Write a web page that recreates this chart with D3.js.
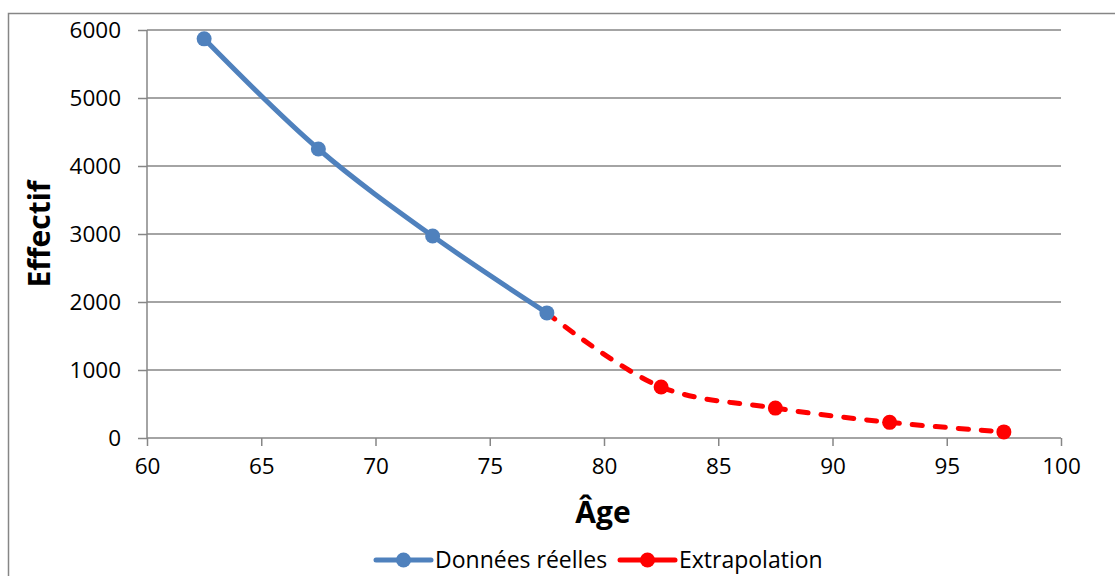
<!DOCTYPE html>
<html>
<head>
<meta charset="utf-8">
<script src="https://cdn.jsdelivr.net/npm/d3@7"></script>
<style>
  body { margin: 0; background: #fff; }
  text { font-family: "Open Sans", "Noto Sans", sans-serif; fill: #000; }
</style>
</head>
<body>
<svg id="chart" width="1115" height="576"></svg>
<script>
// data
const reelAges = [62.5, 67.5, 72.5, 77.5];
const reelValues = [5870, 4250, 2970, 1840];
const extraAges = [77.5, 82.5, 87.5, 92.5, 97.5];
const extraValues = [1840, 750, 440, 230, 90];
const xTicks = [60, 65, 70, 75, 80, 85, 90, 95, 100];
const yTicks = [0, 1000, 2000, 3000, 4000, 5000, 6000];
const seriesNames = ["Données réelles", "Extrapolation"];

const margin = { top: 30, right: 54, bottom: 138, left: 147 };
const width = 1115 - margin.left - margin.right;
const height = 576 - margin.top - margin.bottom;
const grid = "#868686";
const blue = "#4F81BD";
const red = "#FF0000";

const svg = d3.select("#chart");

// outer frame
svg.append("rect")
  .attr("x", 8.5).attr("y", 13.5)
  .attr("width", 1115).attr("height", 580)
  .attr("fill", "none").attr("stroke", grid).attr("stroke-width", 1.5);

const g = svg.append("g").attr("transform", `translate(${margin.left},${margin.top})`);

const x = d3.scaleLinear().domain([60, 100]).range([0, width]);
const y = d3.scaleLinear().domain([0, 6000]).range([height, 0]);

// gridlines
g.append("g")
  .selectAll("line")
  .data(yTicks.filter(d => d > 0))
  .join("line")
  .attr("x1", 0).attr("x2", width)
  .attr("y1", d => y(d)).attr("y2", d => y(d))
  .attr("stroke", grid).attr("stroke-width", 1.5);

// y axis
const yAxis = g.append("g")
  .call(d3.axisLeft(y).tickValues(yTicks).tickFormat(d3.format("d")).tickSize(9).tickPadding(17));
yAxis.select(".domain").attr("stroke", grid).attr("stroke-width", 1.5).attr("d", `M0,${height}V0`);
yAxis.selectAll(".tick line").attr("stroke", grid).attr("stroke-width", 1.5);
yAxis.selectAll(".tick text").style("font-size", "22.5px").attr("fill", "#000");

// x axis
const xAxis = g.append("g")
  .attr("transform", `translate(0,${height})`)
  .call(d3.axisBottom(x).tickValues(xTicks).tickSize(8).tickPadding(12));
xAxis.select(".domain").attr("stroke", grid).attr("stroke-width", 1.5).attr("d", `M0,0H${width}`);
xAxis.selectAll(".tick line").attr("stroke", grid).attr("stroke-width", 1.5);
xAxis.selectAll(".tick text").style("font-size", "22.5px").attr("fill", "#000");

// axis titles
svg.append("text")
  .attr("x", 603).attr("y", 523)
  .attr("text-anchor", "middle")
  .style("font-size", "30px").style("font-weight", "bold")
  .text("Âge");
svg.append("text")
  .attr("transform", `translate(50,234) rotate(-90)`)
  .attr("text-anchor", "middle")
  .style("font-size", "30px").style("font-weight", "bold")
  .text("Effectif");

const line = d3.line()
  .x(d => x(d[0]))
  .y(d => y(d[1]))
  .curve(d3.curveCatmullRom.alpha(0.5));

const reel = d3.zip(reelAges, reelValues);
const extra = d3.zip(extraAges, extraValues);

// extrapolation (dashed red)
g.append("path")
  .datum(extra)
  .attr("fill", "none")
  .attr("stroke", red)
  .attr("stroke-width", 5)
  .attr("stroke-linecap", "round")
  .attr("stroke-dasharray", "10,13")
  .attr("d", line);
g.selectAll("circle.extra")
  .data(extra.slice(1))
  .join("circle")
  .attr("class", "extra")
  .attr("cx", d => x(d[0])).attr("cy", d => y(d[1]))
  .attr("r", 7.5)
  .attr("fill", red);

// real data (solid blue)
g.append("path")
  .datum(reel)
  .attr("fill", "none")
  .attr("stroke", blue)
  .attr("stroke-width", 5)
  .attr("d", line);
g.selectAll("circle.reel")
  .data(reel)
  .join("circle")
  .attr("class", "reel")
  .attr("cx", d => x(d[0])).attr("cy", d => y(d[1]))
  .attr("r", 7.5)
  .attr("fill", blue);

// legend
const legendItems = [
  { name: seriesNames[0], color: blue, x0: 376 },
  { name: seriesNames[1], color: red, x0: 620 }
];
const legend = svg.append("g");
legendItems.forEach(item => {
  const lg = legend.append("g").attr("transform", `translate(${item.x0},560)`);
  lg.append("line")
    .attr("x1", 0).attr("x2", 55)
    .attr("stroke", item.color).attr("stroke-width", 5)
    .attr("stroke-linecap", "round");
  lg.append("circle").attr("cx", 27.5).attr("r", 7.5).attr("fill", item.color);
  lg.append("text")
    .attr("x", 59).attr("y", 8)
    .style("font-size", "23px")
    .text(item.name);
});
</script>
</body>
</html>
